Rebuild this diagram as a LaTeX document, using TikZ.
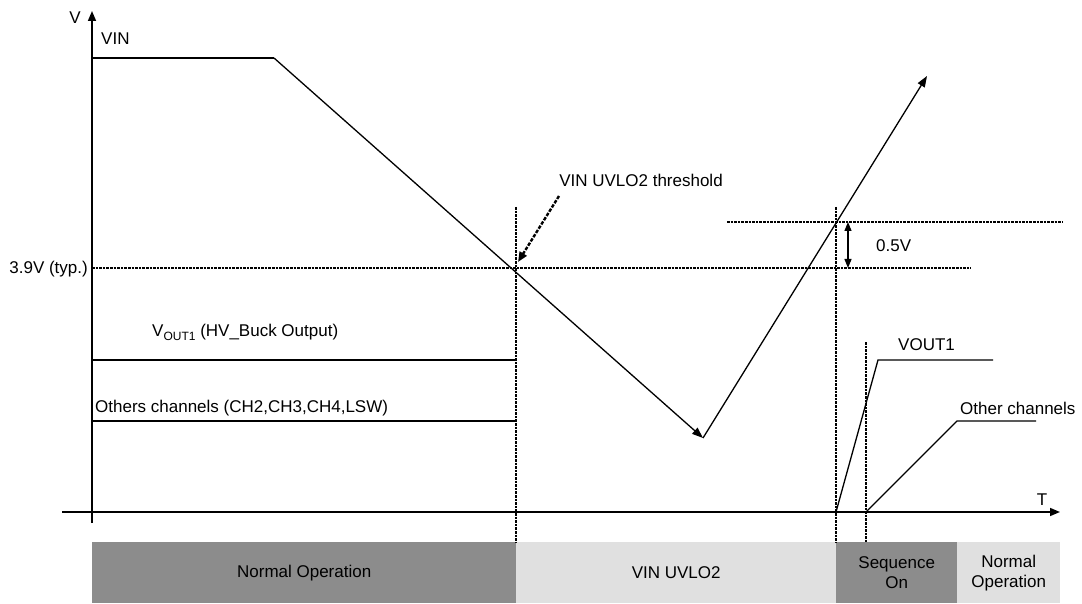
\documentclass[tikz,border=0pt]{standalone}
\usepackage{fontspec}
\setmainfont{Liberation Sans}
\usetikzlibrary{arrows.meta}
\definecolor{darkband}{HTML}{8C8C8C}
\definecolor{lightband}{HTML}{E0E0E0}
\newcommand{\subtxt}[1]{\raisebox{-4pt}{\fontsize{12}{12}\selectfont #1}}
\begin{document}
\begin{tikzpicture}[x=1pt,y=-1pt,
  font=\fontsize{17}{20}\selectfont,
  axis/.style={line width=1.6pt,-{Triangle[length=10pt,width=8pt]}},
  sig/.style={line width=1.3pt},
  sigarrow/.style={line width=1.3pt,-{Triangle[length=11pt,width=8pt]}},
  dotline/.style={line width=2.4pt,dash pattern=on 2.6pt off 1pt},
  band/.style={draw=none,inner sep=0pt,minimum height=61pt,anchor=north west,align=center},
  lbl/.style={inner sep=0pt}]
\useasboundingbox (0,0) rectangle (1082,604);

% coordinates
\coordinate (o) at (92,512);
\coordinate (vbot) at (92,523);
\coordinate (vtop) at (92,11);
\coordinate (tleft) at (62,512);
\coordinate (tright) at (1060,512);
\coordinate (vin0) at (92,58);
\coordinate (vin1) at (274,58);
\coordinate (vmin) at (703,438);
\coordinate (vend) at (927,76);
\coordinate (th0) at (92,268);
\coordinate (th1) at (971,268);
\coordinate (hy0) at (727,222);
\coordinate (hy1) at (1062,222);
\coordinate (d1t) at (516,207);
\coordinate (d1b) at (516,542);
\coordinate (d2t) at (836,207);
\coordinate (d2b) at (836,542);
\coordinate (d3t) at (866,342);
\coordinate (d3b) at (866,542);
\coordinate (a05t) at (848,222);
\coordinate (a05b) at (848,268);
\coordinate (thA) at (559,196);
\coordinate (thB) at (518,262);
\coordinate (vo0) at (92,360);
\coordinate (vo1) at (516,360);
\coordinate (oc0) at (92,421);
\coordinate (oc1) at (516,421);
\coordinate (vr0) at (836,512);
\coordinate (vr1) at (878,360);
\coordinate (vr2) at (993,360);
\coordinate (or0) at (866,512);
\coordinate (or1) at (957,421);
\coordinate (or2) at (1036,421);

% bands
\node[band,fill=darkband,minimum width=424pt] (b1) at (92,542) {Normal Operation};
\node[band,fill=lightband,minimum width=320pt] (b2) at (516,542) {VIN UVLO2};
\node[band,fill=darkband,minimum width=121pt] (b3) at (836,542) {Sequence\\On};
\node[band,fill=lightband,minimum width=103pt] (b4) at (957,542) {Normal\\Operation};

% dotted guides
\draw[dotline] (th0) -- (th1);
\draw[dotline] (hy0) -- (hy1);
\draw[dotline] (d1t) -- (d1b);
\draw[dotline] (d2t) -- (d2b);
\draw[dotline] (d3t) -- (d3b);

% axes
\draw[axis] (vbot) -- (vtop);
\draw[axis] (tleft) -- (tright);

% VIN
\draw[sig] (vin0) -- (vin1);
\draw[sigarrow] (vin1) -- (vmin);
\draw[sigarrow] (vmin) -- (vend);

% left outputs
\draw[sig] (vo0) -- (vo1);
\draw[sig] (oc0) -- (oc1);

% right outputs
\draw[sig] (vr0) -- (vr1) -- (vr2);
\draw[sig] (or0) -- (or1) -- (or2);

% 0.5V arrow
\draw[line width=1.3pt,{Triangle[length=9pt,width=7pt]}-{Triangle[length=9pt,width=7pt]}] (a05t) -- (a05b);

% threshold arrow
\draw[line width=2.4pt,dash pattern=on 3.5pt off 1.5pt,-{Triangle[length=10pt,width=8pt]}] (thA) -- (thB);

% labels
\node[lbl] (lV) at (75,18) {V};
\node[lbl] (lT) at (1042,500) {T};
\node[lbl,anchor=west] (lVIN) at (101,39) {VIN};
\node[lbl,anchor=east] (l39) at (88,269) {3.9V (typ.)};
\node[lbl] (lth) at (641,180) {VIN UVLO2 threshold};
\node[lbl,anchor=west] (l05) at (876,246) {0.5V};
\node[lbl,anchor=west] (lvo) at (152,332) {V\subtxt{OUT1} (HV\_Buck Output)};
\node[lbl,anchor=west] (loc) at (95,408) {Others channels (CH2,CH3,CH4,LSW)};
\node[lbl,anchor=west] (lvr) at (898,345) {VOUT1};
\node[lbl,anchor=west] (lor) at (960,408) {Other channels};
\end{tikzpicture}
\end{document}
